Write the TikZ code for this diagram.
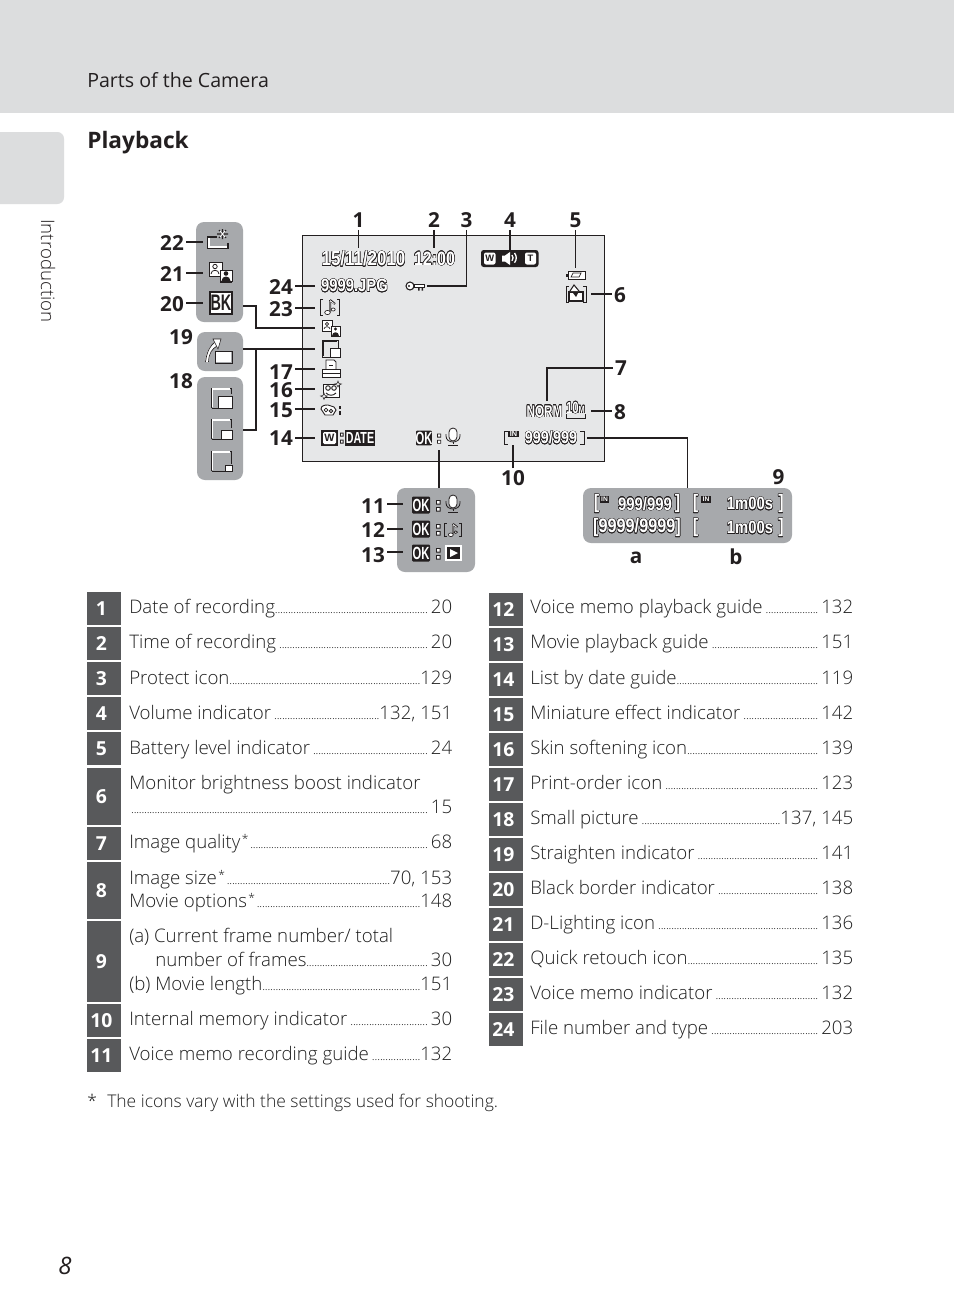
\documentclass[tikz,border=0pt]{standalone}
\usepackage{fontspec}
\usepackage[copies]{contour}
\usetikzlibrary{fit,calc}
\setmainfont{Open Sans}[UprightFont=* Light,BoldFont=* Bold,ItalicFont=* Italic]
\newfontfamily\sansreg{Open Sans}
\newfontfamily\scrfont{Liberation Sans}
\definecolor{band}{HTML}{DCDDDE}
\definecolor{panelc}{HTML}{A7A9AC}
\definecolor{screenc}{HTML}{E6E7E8}
\definecolor{boxc}{HTML}{58595B}
\definecolor{inkc}{HTML}{231F20}
\definecolor{textc}{HTML}{1F1F1F}
\contourlength{0.33pt}\contournumber{16}
\newcommand\scr[2][12]{{\scrfont\bfseries\fontsize{#1pt}{#1pt}\selectfont\scalebox{1}[1.2]{\contour{inkc}{\color{white}#2}}}}
\newcommand\tdots{\xleaders\hbox to 1.95pt{\hss\sansreg\fontsize{6.5pt}{6.5pt}\selectfont.\hss}\hfill}
\newcommand\starup{\raisebox{3.5pt}{\fontsize{9}{9}\selectfont\kern1pt*}\kern1.5pt}
\tikzset{
  x=0.75pt,y=-0.75pt,
  wire/.style={draw=inkc,line width=1.45pt,line join=miter},
  tick/.style={draw=inkc,line width=1.45pt},
  panel/.style={fill=panelc,draw=none,rounded corners=6pt,inner sep=0pt},
  screen/.style={fill=screenc,draw=inkc,line width=0.9pt,inner sep=0pt},
  numbox/.style={fill=boxc,draw=none,inner sep=0pt},
  numlab/.style={text=white,font=\sansreg\bfseries\fontsize{14.5}{15}\selectfont,inner sep=0pt},
  lab/.style={text=inkc,font=\bfseries\fontsize{15.5}{15.5}\selectfont,inner sep=1.6pt},
  entry/.style={text=textc,anchor=base west,inner sep=0pt,font=\fontsize{14}{16}\selectfont},
  ic/.style={draw=inkc,line width=0.55pt,fill=white},
  retouchicon/.pic={
    \draw[inkc,line width=0.9pt] (-2,-4) -- (-11,-4) -- (-11,7) -- (9,7) -- (9,2);
    \draw[white,line width=0.8pt] (-10,-3) -- (-10,6) -- (8,6);
    \draw[inkc,line width=0.8pt] (0,-11) -- (7,-3) (7,-11) -- (0,-3) (3.5,-12) -- (3.5,-2) (-2,-7) -- (9,-7);
    \draw[white,line width=0.7pt] (1,-10) -- (6,-4) (6,-10) -- (1,-4);
  },
  dlighticon/.pic={
    \draw[ic] (-11,-10) rectangle (2,4);
    \draw[inkc,line width=0.6pt] (-5,-5.5) circle (2.2) (-9,2) .. controls (-9,-3) and (-1,-3) .. (-1,2);
    \draw[ic,fill=white] (0,-2) rectangle (12,9);
    \fill[inkc] (6,1.5) circle (2.3) (1.5,9) .. controls (1.5,3) and (10.5,3) .. (10.5,9);
    \fill[inkc] (0,9) rectangle (12,11);
  },
  smalldlight/.pic={
    \draw[ic] (-9,-8) rectangle (1,3);
    \draw[inkc,line width=0.5pt] (-4,-4) circle (1.7) (-7,1) .. controls (-7,-2) and (-1,-2) .. (-1,1);
    \draw[ic] (0,-2) rectangle (9,8);
    \fill[inkc] (4.5,1) circle (1.7) (1,8) .. controls (1,3) and (8,3) .. (8,8);
  },
  bkicon/.pic={
    \draw[draw=inkc,fill=white,line width=1pt] (-11,-11) rectangle (11,11);
    \node[inner sep=0pt,text=inkc] at (0,0) {\scrfont\bfseries\fontsize{13.5}{14}\selectfont\scalebox{0.8}[1.25]{BK}};
  },
  straighticon/.pic={
    \draw[white,line width=2.8pt] (-12,12) .. controls (-11,2) and (-8,-3) .. (-3,-6);
    \draw[inkc,line width=0.5pt] (-13.5,12) .. controls (-12,1) and (-9,-4) .. (-4,-8) (-10.5,12) .. controls (-10,3) and (-7,-1) .. (-2,-4);
    \fill[white,draw=inkc,line width=0.4pt] (-6,-11) -- (2,-11) -- (-1,-1) -- cycle;
    \fill[white] (-3,2) rectangle (12,12);
    \draw[inkc,line width=0.5pt] (-4,1) rectangle (13,13);
  },
  sp/.cd,s/.store in=\sps,s=10,/tikz/.cd,
  smallicon/.pic={
    \tikzset{sp/.cd,#1}
    \draw[inkc,line width=0.7pt] (-10.5,10) -- (-10.5,-10) -- (9,-10) -- (9,10-\sps);
    \draw[white,line width=0.9pt] (-9.3,9) -- (-9.3,-9) -- (8,-9);
    \draw[inkc,line width=0.7pt] (-10.5,10) -- (10.5-\sps-0.5,10);
    \fill[white,draw=inkc,line width=0.5pt] (10.5-\sps,10.5-\sps*0.85) rectangle (10.5,10.5);
  },
  smallscr/.pic={
    \draw[inkc,line width=0.75pt] (-1,8) -- (-9,8) -- (-9,-9) -- (7,-9) -- (7,-1);
    \draw[inkc,line width=0.3pt] (-7.6,6.6) -- (-7.6,-7.6) -- (5.6,-7.6);
    \fill[white,draw=inkc,line width=0.55pt] (-1,-1) rectangle (9,8);
  },
  brackets/.pic={
    \draw[inkc,line width=0.75pt] (-7,-8) -- (-9.5,-8) -- (-9.5,8) -- (-7,8) (7,-8) -- (9.5,-8) -- (9.5,8) -- (7,8);
    \draw[inkc,line width=1.5pt] (0,-7) -- (0,5) (0,-7) -- (5,-3);
    \draw[white,line width=0.5pt] (0,-6) -- (0,5) (0,-6.5) -- (4.5,-3);
    \fill[white,draw=inkc,line width=0.5pt] (-2.5,5.5) ellipse (2.8 and 2.1);
    \fill[white,draw=inkc,line width=0.5pt] (3.2,2.5) ellipse (2 and 1.5);
  },
  printicon/.pic={
    \draw[ic] (-5,0) -- (-5,-9) -- (3,-9) -- (5,-7) -- (5,0);
    \draw[inkc,line width=0.5pt] (-2,-4) -- (2,-4);
    \draw[ic] (-9,0) rectangle (9,8);
    \draw[inkc,line width=0.6pt] (-9,4) -- (9,4);
  },
  skinicon/.pic={
    \draw[ic] (-8,-6) rectangle (8,7);
    \draw[inkc,line width=0.7pt] (-3,-2) circle (2.3) (3,-2) circle (2.3) (-5,3) .. controls (-2,6) and (2,6) .. (5,3);
    \fill[white,draw=inkc,line width=0.4pt] (7,-9) -- (8,-6.5) -- (10.5,-6) -- (8,-5) -- (7,-3) -- (6,-5) -- (3.5,-6) -- (6,-6.5) -- cycle;
    \fill[white,draw=inkc,line width=0.4pt] (-7,3) -- (-6,5.5) -- (-3.5,6) -- (-6,7) -- (-7,9.5) -- (-8,7) -- (-10.5,6) -- (-8,5.5) -- cycle;
  },
  minicon/.pic={
    \draw[ic,line width=0.7pt] (-10,-1) .. controls (-10,-5) and (-5,-5) .. (-3,-5) -- (3,-3) -- (5,0) -- (2,5) -- (-6,5) -- cycle;
    \draw[inkc,line width=0.6pt] (-5,0) circle (1.9) (0,1) circle (1.7);
    \draw[inkc,line width=1.5pt] (8.5,-4) -- (8.5,-1) (8.5,1) -- (8.5,5);
  },
  micicon/.pic={
    \draw[inkc,line width=0.6pt,fill=white] (-4,-5) arc (180:360:4) -- (4,0) arc (0:180:4) -- cycle;
    \draw[inkc,line width=0.6pt] (-7,-3) -- (-7,-1) .. controls (-7,7) and (7,7) .. (7,-1) -- (7,-3);
    \draw[inkc,line width=0.7pt] (0,5) -- (0,7) (-5,8) -- (5,8);
  },
  okbox/.pic={
    \fill[inkc,rounded corners=0.8pt] (-9,-8.5) rectangle (9,8.5);
    \node[inner sep=0pt,text=white] at (0,0) {\scrfont\bfseries\fontsize{12}{12}\selectfont\scalebox{0.7}[1.1]{OK}};
    \fill[inkc] (15,-5) rectangle (19.5,-0.5) (15,2) rectangle (19.5,6.5);
    \fill[white] (16,-4) rectangle (18.5,-1.5) (16,3) rectangle (18.5,5.5);
  },
  battery/.pic={
    \draw[inkc,line width=0.6pt,fill=white] (-8,-4) rectangle (9,4);
    \fill[inkc] (-10,-1.5) rectangle (-8,1.5);
    \draw[inkc,line width=0.5pt] (-5,2) -- (-3,-2) -- (5,-2) -- (3,2) -- cycle;
  },
  moon/.pic={
    \draw[inkc,line width=0.7pt] (-7,-8) -- (-10,-8) -- (-10,8) -- (-7,8);
    \draw[inkc,line width=0.7pt] (7,-8) -- (10,-8) -- (10,8) -- (7,8);
    \draw[ic,line width=0.9pt] (-7,-2) rectangle (7,7);
    \draw[ic,line width=0.8pt] (-6,-3) -- (-2,-9) -- (3,-3);
    \fill[inkc] (-3,-1) -- (2,-1) -- (0,3) -- cycle;
  },
}
\newcommand\pnl[5]{\node[panel,fit={(#2,#3)(#4,#5)}] (#1) {};}
\newcommand\numb[5]{\node[numbox,fit={(#2,#3)(#4,#5)}] (n#1) {}; \node[numlab] at ($(n#1.center)+(-2.6,0.4)$) {#1};}
\newcommand\ent[4]{\node[entry] at (#1,#2) {\hbox to 242.25pt{#3\tdots#4}};}
\newcommand\lbl[3]{\node[lab] (l#1) at (#2,#3) {#1};}
\begin{document}
\begin{tikzpicture}
\useasboundingbox (0,0) rectangle (954,1314);
\fill[white] (0,0) rectangle (954,1314);
\fill[band] (0,0) rectangle (954,113);
\fill[band,rounded corners=5pt] (-10,132) rectangle (64,204);
\node[anchor=base west,inner sep=0pt,text=inkc,font=\sansreg\fontsize{14.7}{18}\selectfont] (hdr) at (87,87) {Parts of the Camera};
\node[anchor=base west,inner sep=0pt,text=inkc,font=\bfseries\fontsize{17}{20}\selectfont] (ttl) at (87,148) {Playback};
\node[anchor=base west,rotate=-90,inner sep=0pt,text=inkc,font=\fontsize{14}{14}\selectfont] (intro) at (41,219) {Introduction};
\node[anchor=base,inner sep=0pt,text=inkc,font=\itshape\fontsize{18}{20}\selectfont] (pg) at (65,1274) {8};

% screen and panels
\node[screen,fit={(302.5,235.5)(604.5,461.5)}] (screen) {};
\pnl{pa}{196}{222}{243}{322}
\pnl{pb}{197}{332}{243}{371}
\pnl{pc}{197}{377}{243}{480}
\pnl{pd}{397}{488}{475}{572}
\pnl{pe}{583}{488}{792}{543}

% icons
\pic at (219,241) {retouchicon};
\pic at (220,272) {dlighticon};
\pic at (221,303) {bkicon};
\pic at (219,350) {straighticon};
\pic at (222,398) {smallicon={s=14}};
\pic at (222,429) {smallicon={s=11}};
\pic at (222,461) {smallicon={s=7}};

% screen contents
\node[inner sep=0pt] (date) at (363.5,259) {\scr[12.7]{15/11/2010}};
\node[inner sep=0pt] (time) at (434.5,259) {\scr[12]{12:00}};
\node[inner sep=0pt] (file) at (354.5,286) {\scr[11.1]{9999.JPG}};
\draw[inkc,line width=0.8pt,fill=white] (410,286) circle (4);
\draw[inkc,line width=0.6pt,fill=white] (414,284.5) rectangle (424.5,287.5);
\fill[inkc] (409,286) circle (1.2) (418,288) rectangle (419.5,290.5) (421.5,288) rectangle (423,290.5);
\pic at (330,307) {brackets};
\pic at (331,328) {smalldlight};
\pic at (331,349) {smallscr};
\pic at (331,369) {printicon};
\pic at (331,390) {skinicon};
\pic at (331,410) {minicon};
% W : DATE
\fill[inkc] (321,430) rectangle (338,446);
\fill[white,rounded corners=1pt] (323,432) rectangle (336,444);
\node[inner sep=0pt,text=inkc] (wk) at (329.5,438) {\scrfont\bfseries\fontsize{8}{8}\selectfont W};
\fill[inkc] (340,432.5) rectangle (343.5,436.5) (340,439.5) rectangle (343.5,443.5);
\fill[white] (341,433.5) rectangle (342.5,435.5) (341,440.5) rectangle (342.5,442.5);
\fill[inkc] (345,430) rectangle (375,446);
\node[inner sep=0pt,text=white] (dk) at (360,438) {\scrfont\bfseries\fontsize{10}{10}\selectfont\scalebox{0.8}[1.2]{DATE}};
% OK : mic
\pic[scale=0.88] at (424,438) {okbox};
\pic at (453,437) {micicon};
% counter
\node[inner sep=0pt] (cnt) at (551,438) {\scr[10.8]{999/999}};
\draw[inkc,line width=0.75pt] (507.5,431.5) -- (504,431.5) -- (504,444.5) -- (507.5,444.5) (580,431.5) -- (584,431.5) -- (584,444.5) -- (580,444.5);
\node[inner sep=0pt,fill=inkc,text=white,minimum width=8pt,minimum height=5pt] (inb) at (513.5,434) {\scrfont\bfseries\fontsize{5.5}{5.5}\selectfont IN};
% W speaker T
\node[fill=inkc,rounded corners=2pt,inner sep=0pt,fit={(481,250)(538.5,267)}] (vol) {};
\fill[white,rounded corners=1.5pt] (484,252.5) rectangle (495.5,264.5);
\fill[white,rounded corners=1.5pt] (525,252.5) rectangle (536,264.5);
\node[inner sep=0pt,text=inkc] (vw) at (489.7,258.5) {\scrfont\bfseries\fontsize{7}{7}\selectfont W};
\node[inner sep=0pt,text=inkc] (vt) at (530.5,258.5) {\scrfont\bfseries\fontsize{7}{7}\selectfont T};
\fill[white] (502,255.5) -- (505,255.5) -- (510,252) -- (510,265) -- (505,261.5) -- (502,261.5) -- cycle;
\draw[white,line width=1pt] (512,255) arc (-40:40:4.5) (514.5,253) arc (-40:40:7.5);
\pic at (576,275) {battery};
\pic at (576,294) {moon};
\node[inner sep=0pt] (norm) at (544.5,411.5) {\scr[10.5]{\scalebox{0.84}[1]{NORM}}};
\node[inner sep=0pt] (tenm) at (575.5,408) {\scr[10]{\scalebox{0.85}[1]{10\fontsize{6.5}{6.5}\selectfont M}}};
\draw[inkc,line width=0.6pt] (566,414) -- (566,418) -- (585,418) -- (585,414);

% panel d
\pic at (421,505) {okbox};
\pic at (421,529) {okbox};
\pic at (421,553) {okbox};
\pic at (453,504) {micicon};
\pic[scale=0.87] at (453,530) {brackets};
\draw[white,fill=inkc,line width=0.9pt] (446,546) rectangle (461,560);
\fill[white] (450,549) -- (458,553) -- (450,557) -- cycle;

% panel e
\node[inner sep=0pt] (e1) at (645,504) {\scr[11.2]{999/999}};
\node[inner sep=0pt] (e2) at (637,528) {\scr[12.2]{[9999/9999]}};
\node[inner sep=0pt] (e3) at (750,504) {\scr[11.1]{1m00s}};
\node[inner sep=0pt] (e4) at (750,528) {\scr[11.1]{1m00s}};
\node[inner sep=0pt] (b1) at (596.5,504) {\scr[12.2]{[}};
\node[inner sep=0pt] (b2) at (677.5,504) {\scr[12.2]{]}};
\node[inner sep=0pt] (b3) at (695.5,504) {\scr[12.2]{[}};
\node[inner sep=0pt] (b4) at (781,504) {\scr[12.2]{]}};
\node[inner sep=0pt] (b5) at (695.5,528) {\scr[12.2]{[}};
\node[inner sep=0pt] (b6) at (781,528) {\scr[12.2]{]}};
\node[inner sep=0pt,fill=inkc,text=white,minimum width=7pt,minimum height=5pt] (in1) at (604.5,499.5) {\scrfont\bfseries\fontsize{5}{5}\selectfont IN};
\node[inner sep=0pt,fill=inkc,text=white,minimum width=7pt,minimum height=5pt] (in2) at (706,499.5) {\scrfont\bfseries\fontsize{5}{5}\selectfont IN};

% labels
\lbl{1}{358.5}{220}\lbl{2}{434}{220}\lbl{3}{466.5}{220}\lbl{4}{510}{220}\lbl{5}{575.5}{220}
\lbl{6}{620}{295}\lbl{7}{621}{368}\lbl{8}{620}{412}\lbl{9}{778.5}{477}
\lbl{10}{513}{478}\lbl{11}{373}{506}\lbl{12}{373}{530}\lbl{13}{373}{555}
\lbl{14}{281}{438}\lbl{15}{281}{410}\lbl{16}{281}{390}\lbl{17}{281}{372}
\lbl{18}{181}{381}\lbl{19}{181}{337}\lbl{20}{172}{304}\lbl{21}{172}{274}\lbl{22}{172}{243}
\lbl{23}{281}{309}\lbl{24}{281}{287}
\node[lab] (la) at (636,558) {a};
\node[lab] (lb) at (736,557) {b};

% connector ends
\coordinate (c1) at (358.5,248);\coordinate (c2) at (434,248);\coordinate (c3) at (427,286);
\coordinate (c4) at (510,252);\coordinate (c5) at (575.5,268);\coordinate (c6) at (591,294);
\coordinate (c7) at (547,401);\coordinate (c8) at (591,411);\coordinate (c9) at (587,438);
\coordinate (c10) at (513,445);\coordinate (c14) at (315,438);\coordinate (c15) at (315,409);
\coordinate (c16) at (315,389);\coordinate (c17) at (315,369);\coordinate (c23) at (315,308);
\coordinate (c24) at (315,286);\coordinate (c11) at (403,504);\coordinate (c12) at (403,529);
\coordinate (c13) at (403,552);\coordinate (c20) at (203,303);\coordinate (c21) at (203,273);
\coordinate (c22) at (203,242);\coordinate (ok) at (439,450);\coordinate (oktop) at (439,488);
\coordinate (bk) at (243,306);\coordinate (dl) at (315,328);\coordinate (st) at (243,349);
\coordinate (sm) at (315,349);\coordinate (sp) at (243,430);\coordinate (jn) at (256,349);

\foreach \i in {1,2,4,5} \draw[tick] (l\i.south) -- (c\i);
\draw[tick] (l10.north) -- (c10);
\draw[wire] (l3.south) |- (c3);
\foreach \i in {6,8} \draw[tick] (l\i.west |- c\i) -- (c\i);
\draw[wire] (l7.west) -| (c7);
\draw[wire] (c9) -| (pe.north);
\foreach \i in {14,15,16,17,23,24,11,12,13,20,21,22} \draw[tick] (l\i.east |- c\i) -- (c\i);
\draw[tick] (ok) -- (oktop);
\draw[wire] (bk) -- ++(13,0) |- (dl);
\draw[wire] (st) -- (sm);
\draw[wire] (sp) -| (jn);

% table left
\numb{1}{87}{592}{121}{625}\numb{2}{87}{627}{121}{660}\numb{3}{87}{662}{121}{695}\numb{4}{87}{697}{121}{730}\numb{5}{87}{732}{121}{765}
\numb{6}{87}{768}{121}{825}\numb{7}{87}{827}{121}{860}\numb{8}{87}{862}{121}{919}\numb{9}{87}{921}{121}{1002}\numb{10}{87}{1004}{121}{1037}\numb{11}{87}{1039}{121}{1072}
\ent{129}{613}{Date of recording}{\,20}
\ent{129}{648}{Time of recording\,}{\,20}
\ent{129}{684}{Protect icon}{129}
\ent{129}{719}{Volume indicator\,}{132, 151}
\ent{129}{754}{Battery level indicator\,}{\,24}
\node[entry] (m6) at (129,789) {Monitor brightness boost indicator};
\node[entry] at (131,813) {\hbox to 240.75pt{\tdots\,15}};
\ent{129}{848}{Image quality\starup}{\,68}
\ent{129}{884}{Image size\starup}{70, 153}
\ent{129}{907}{Movie options\starup}{148}
\node[entry] (m9) at (129,942) {(a) Current frame number/ total};
\node[entry] at (155,966) {\hbox to 222.75pt{number of frames\tdots\,30}};
\ent{129}{990}{(b) Movie length}{151}
\ent{129}{1025}{Internal memory indicator\,}{\,30}
\ent{129}{1060}{Voice memo recording guide\,}{132}

% table right
\numb{12}{489}{593}{523}{626}\numb{13}{489}{628}{523}{661}\numb{14}{489}{663}{523}{696}\numb{15}{489}{698}{523}{731}\numb{16}{489}{733}{523}{766}
\numb{17}{489}{768}{523}{801}\numb{18}{489}{803}{523}{836}\numb{19}{489}{838}{523}{871}\numb{20}{489}{873}{523}{906}\numb{21}{489}{908}{523}{941}
\numb{22}{489}{943}{523}{976}\numb{23}{489}{978}{523}{1011}\numb{24}{489}{1013}{523}{1046}
\ent{530}{613}{Voice memo playback guide\,}{\,132}
\ent{530}{648}{Movie playback guide\,}{\,151}
\ent{530}{684}{List by date guide}{\,119}
\ent{530}{719}{Miniature effect indicator\,}{\,142}
\ent{530}{754}{Skin softening icon}{\,139}
\ent{530}{789}{Print-order icon\,}{\,123}
\ent{530}{824}{Small picture\,}{137, 145}
\ent{530}{859}{Straighten indicator\,}{\,141}
\ent{530}{894}{Black border indicator\,}{\,138}
\ent{530}{929}{D-Lighting icon\,}{\,136}
\ent{530}{964}{Quick retouch icon}{\,135}
\ent{530}{999}{Voice memo indicator\,}{\,132}
\ent{530}{1034}{File number and type\,}{\,203}

\node[entry,font=\fontsize{13.1}{16}\selectfont] (star) at (87,1107) {*};
\node[entry,font=\fontsize{13.1}{16}\selectfont] (foot) at (107,1107) {The icons vary with the settings used for shooting.};
\end{tikzpicture}
\end{document}
